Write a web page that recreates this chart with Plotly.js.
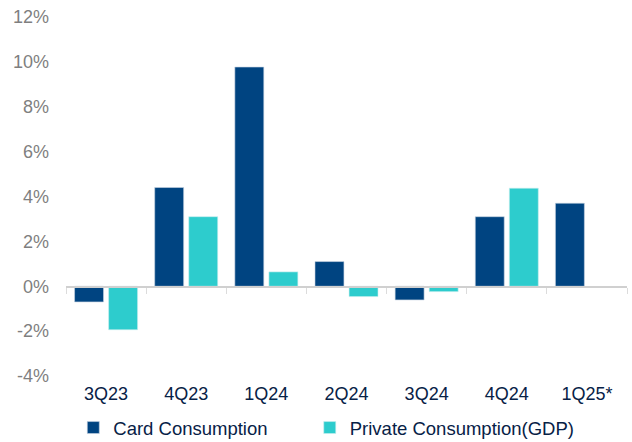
<!DOCTYPE html>
<html><head><meta charset="utf-8">
<script src="https://cdn.plot.ly/plotly-3.0.1.min.js"></script>
<style>html,body{margin:0;padding:0;background:#fff}#c{width:632px;height:442px}</style>
</head><body><div id="c"></div>
<script>
const categories = ["3Q23","4Q23","1Q24","2Q24","3Q24","4Q24","1Q25*"];
const cardConsumption = [-0.70, 4.40, 9.77, 1.10, -0.61, 3.10, 3.70];
const privateConsumption = [-1.94, 3.10, 0.64, -0.46, -0.24, 4.37, null];
const seriesNames = ["Card Consumption","Private Consumption(GDP)"];
const yTickVals = [-4,-2,0,2,4,6,8,10,12];

const yMin = -4, yMax = 12;
const font = "Arial, 'Liberation Sans', sans-serif";
const legendFont = {family:font, size:18.5, color:"#072146"};

const data = [
  {type:"bar", x:categories, y:cardConsumption.map(v=>v==null?null:v/100), name:seriesNames[0],
   marker:{color:"#004481", line:{color:"#c8d3e3", width:0.6}}, hoverinfo:"skip", legend:"legend"},
  {type:"bar", x:categories, y:privateConsumption.map(v=>v==null?null:v/100), name:seriesNames[1],
   marker:{color:"#2dcccd", line:{color:"#c9eeee", width:0.6}}, hoverinfo:"skip", legend:"legend2"},
  {type:"scatter", x:categories, y:categories.map(()=>null), xaxis:"x2", yaxis:"y",
   showlegend:false, hoverinfo:"skip", mode:"markers"}
];

const layout = {
  width:632, height:442,
  margin:{l:66, r:5, t:17, b:66, autoexpand:false},
  paper_bgcolor:"#fff", plot_bgcolor:"#fff",
  barmode:"group", bargap:0.15, bargroupgap:0.15,
  showlegend:true,
  legend:{orientation:"h", x:0.013, xanchor:"left", y:-0.092, yanchor:"top",
    font:legendFont, itemwidth:30, bgcolor:"rgba(0,0,0,0)"},
  legend2:{orientation:"h", x:0.4345, xanchor:"left", y:-0.092, yanchor:"top",
    font:legendFont, itemwidth:30, bgcolor:"rgba(0,0,0,0)"},
  xaxis:{type:"category", showline:false, showgrid:false, zeroline:false, ticks:"",
    tickfont:{family:font, size:18, color:"#072146"}, ticklabelstandoff:5, fixedrange:true},
  xaxis2:{type:"category", overlaying:"x", anchor:"free", position:(0-yMin)/(yMax-yMin),
    showline:true, linecolor:"#d0d0d0", linewidth:1.5, ticks:"outside", tickson:"boundaries",
    ticklen:6, tickcolor:"#dcdcdc", tickwidth:1, showticklabels:false, showgrid:false,
    zeroline:false, matches:"x"},
  yaxis:{range:[yMin/100, yMax/100], tickvals:yTickVals.map(v=>v/100),
    ticktext:yTickVals.map(v=>v+"%"), showgrid:false, zeroline:false, showline:false,
    tickfont:{family:font, size:18, color:"#7f7f7f"}, ticks:"", ticklabelstandoff:16},
  font:{family:font}
};
Plotly.newPlot("c", data, layout, {staticPlot:true, displayModeBar:false});
</script></body></html>
